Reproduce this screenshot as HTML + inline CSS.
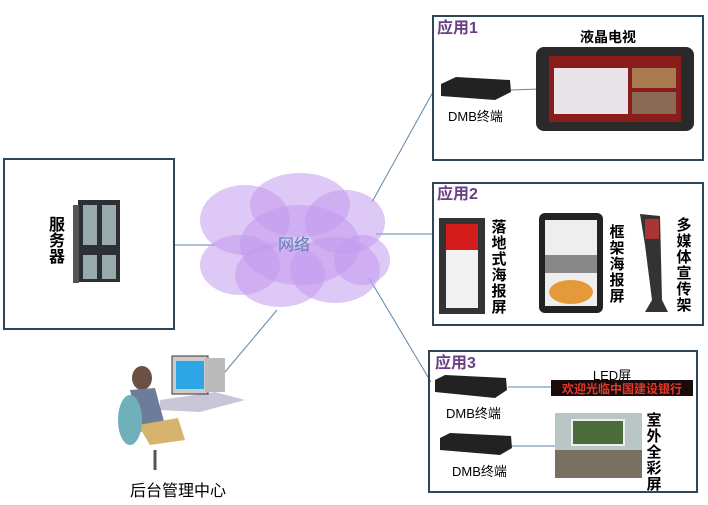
<!DOCTYPE html>
<html><head><meta charset="utf-8"><style>
body{margin:0;background:#fff;}
svg{display:block;font-family:"Liberation Sans","Noto Sans CJK SC",sans-serif;}
</style></head><body>
<svg width="708" height="505" viewBox="0 0 708 505">
<g stroke="#5f86a8" stroke-width="1" fill="none">
<line x1="174" y1="245" x2="215" y2="245"/>
<line x1="372" y1="202" x2="433" y2="92"/>
<line x1="376" y1="234" x2="432" y2="234"/>
<line x1="369" y1="278" x2="431" y2="382"/>
<line x1="277" y1="310" x2="225" y2="372"/>
<line x1="511" y1="90" x2="540" y2="89"/>
<line x1="508" y1="387" x2="553" y2="387"/>
<line x1="512" y1="446" x2="556" y2="446"/>
</g>
<g fill="none" stroke="#2e4658" stroke-width="2">
<rect x="4" y="159" width="170" height="170"/>
<rect x="433" y="16" width="270" height="144"/>
<rect x="433" y="183" width="270" height="142"/>
<rect x="429" y="351" width="268" height="141"/>
</g>
<g fill="#c39bee" fill-opacity="0.55">
<ellipse cx="245" cy="220" rx="45" ry="35"/>
<ellipse cx="300" cy="205" rx="50" ry="32"/>
<ellipse cx="345" cy="222" rx="40" ry="32"/>
<ellipse cx="240" cy="265" rx="40" ry="30"/>
<ellipse cx="280" cy="275" rx="45" ry="32"/>
<ellipse cx="335" cy="270" rx="45" ry="33"/>
<ellipse cx="362" cy="260" rx="28" ry="25"/>
<ellipse cx="300" cy="245" rx="60" ry="40"/>
</g>
<text x="294" y="250" font-size="16" fill="#5a7fb5" text-anchor="middle">网络</text>
<rect x="78" y="200" width="42" height="82" fill="#2c2f33"/>
<rect x="73" y="205" width="6" height="78" fill="#555"/>
<g fill="#9aa"><rect x="83" y="205" width="14" height="40"/><rect x="102" y="205" width="14" height="40"/><rect x="83" y="255" width="14" height="24"/><rect x="102" y="255" width="14" height="24"/></g>
<text font-size="16" font-weight="bold" fill="#000" text-anchor="middle"><tspan x="57" y="230">服</tspan><tspan x="57" y="246">务</tspan><tspan x="57" y="262">器</tspan></text>
<polygon points="160,400 215,392 245,400 200,412 160,410" fill="#c9c6d8"/>
<rect x="172" y="356" width="36" height="38" fill="#ccc" stroke="#333"/>
<rect x="176" y="361" width="28" height="28" fill="#2ea6e6"/>
<rect x="205" y="358" width="20" height="34" fill="#bbb"/>
<ellipse cx="142" cy="378" rx="10" ry="12" fill="#6b5144"/>
<path d="M130 390 L155 388 L165 425 L140 432 Z" fill="#6b7d9a"/>
<path d="M138 425 L178 418 L185 440 L150 445 Z" fill="#d7b36c"/>
<ellipse cx="130" cy="420" rx="12" ry="25" fill="#6fb0bb"/>
<line x1="155" y1="450" x2="155" y2="470" stroke="#555" stroke-width="3"/>
<text x="178" y="496" font-size="16" fill="#000" text-anchor="middle">后台管理中心</text>
<text x="437" y="33" font-size="16" font-weight="bold" fill="#6a3f86">应用1</text>
<text x="608" y="42" font-size="14" font-weight="bold" fill="#000" text-anchor="middle">液晶电视</text>
<path d="M441 84 L456 77 L510 80 L511 92 L495 100 L441 96 Z" fill="#222"/>
<text x="448" y="121" font-size="13" fill="#000">DMB终端</text>
<rect x="536" y="47" width="158" height="84" rx="8" fill="#2a2a2a"/>
<rect x="549" y="56" width="132" height="66" fill="#8a1c1c"/>
<rect x="554" y="68" width="74" height="46" fill="#e8e4ea"/>
<rect x="632" y="68" width="44" height="20" fill="#a87a50"/>
<rect x="632" y="92" width="44" height="22" fill="#8a6a54"/>
<text x="437" y="199" font-size="16" font-weight="bold" fill="#6a3f86">应用2</text>
<rect x="439" y="218" width="46" height="96" fill="#333"/>
<rect x="446" y="224" width="32" height="84" fill="#f2f2f2"/>
<rect x="446" y="224" width="32" height="26" fill="#d41c1c"/>
<rect x="539" y="213" width="64" height="100" rx="6" fill="#222"/>
<rect x="545" y="220" width="52" height="86" fill="#eee"/>
<rect x="545" y="255" width="52" height="18" fill="#888"/>
<ellipse cx="571" cy="292" rx="22" ry="12" fill="#e59a3a"/>
<path d="M640 214 L660 216 L662 300 L668 312 L645 312 L652 300 L645 245 Z" fill="#333"/>
<rect x="645" y="219" width="14" height="20" fill="#a33"/>
<text font-size="15" font-weight="bold" fill="#000" text-anchor="middle"><tspan x="499" y="232">落</tspan><tspan x="499" y="248">地</tspan><tspan x="499" y="264">式</tspan><tspan x="499" y="280">海</tspan><tspan x="499" y="296">报</tspan><tspan x="499" y="312">屏</tspan></text>
<text font-size="15" font-weight="bold" fill="#000" text-anchor="middle"><tspan x="617" y="237">框</tspan><tspan x="617" y="253">架</tspan><tspan x="617" y="269">海</tspan><tspan x="617" y="285">报</tspan><tspan x="617" y="301">屏</tspan></text>
<text font-size="15" font-weight="bold" fill="#000" text-anchor="middle"><tspan x="684" y="230">多</tspan><tspan x="684" y="246">媒</tspan><tspan x="684" y="262">体</tspan><tspan x="684" y="278">宣</tspan><tspan x="684" y="294">传</tspan><tspan x="684" y="310">架</tspan></text>
<text x="435" y="368" font-size="16" font-weight="bold" fill="#6a3f86">应用3</text>
<path d="M435 380 L445 375 L506 378 L507 390 L495 398 L435 392 Z" fill="#222"/>
<text x="446" y="418" font-size="13" fill="#000">DMB终端</text>
<path d="M440 438 L450 433 L511 436 L512 448 L500 455 L440 450 Z" fill="#222"/>
<text x="452" y="476" font-size="13" fill="#000">DMB终端</text>
<text x="612" y="380" font-size="13" fill="#000" text-anchor="middle">LED屏</text>
<rect x="551" y="380" width="142" height="16" fill="#1a0a0a"/>
<text x="622" y="393" font-size="12" font-weight="bold" fill="#e23a2a" text-anchor="middle">欢迎光临中国建设银行</text>
<rect x="555" y="413" width="87" height="65" fill="#b9c6c6"/>
<rect x="572" y="420" width="52" height="25" fill="#4a6b3a" stroke="#eee" stroke-width="2"/>
<rect x="555" y="450" width="87" height="28" fill="#7a7062"/>
<text font-size="15" font-weight="bold" fill="#000" text-anchor="middle"><tspan x="654" y="425">室</tspan><tspan x="654" y="441">外</tspan><tspan x="654" y="457">全</tspan><tspan x="654" y="473">彩</tspan><tspan x="654" y="489">屏</tspan></text>
</svg>
</body></html>
